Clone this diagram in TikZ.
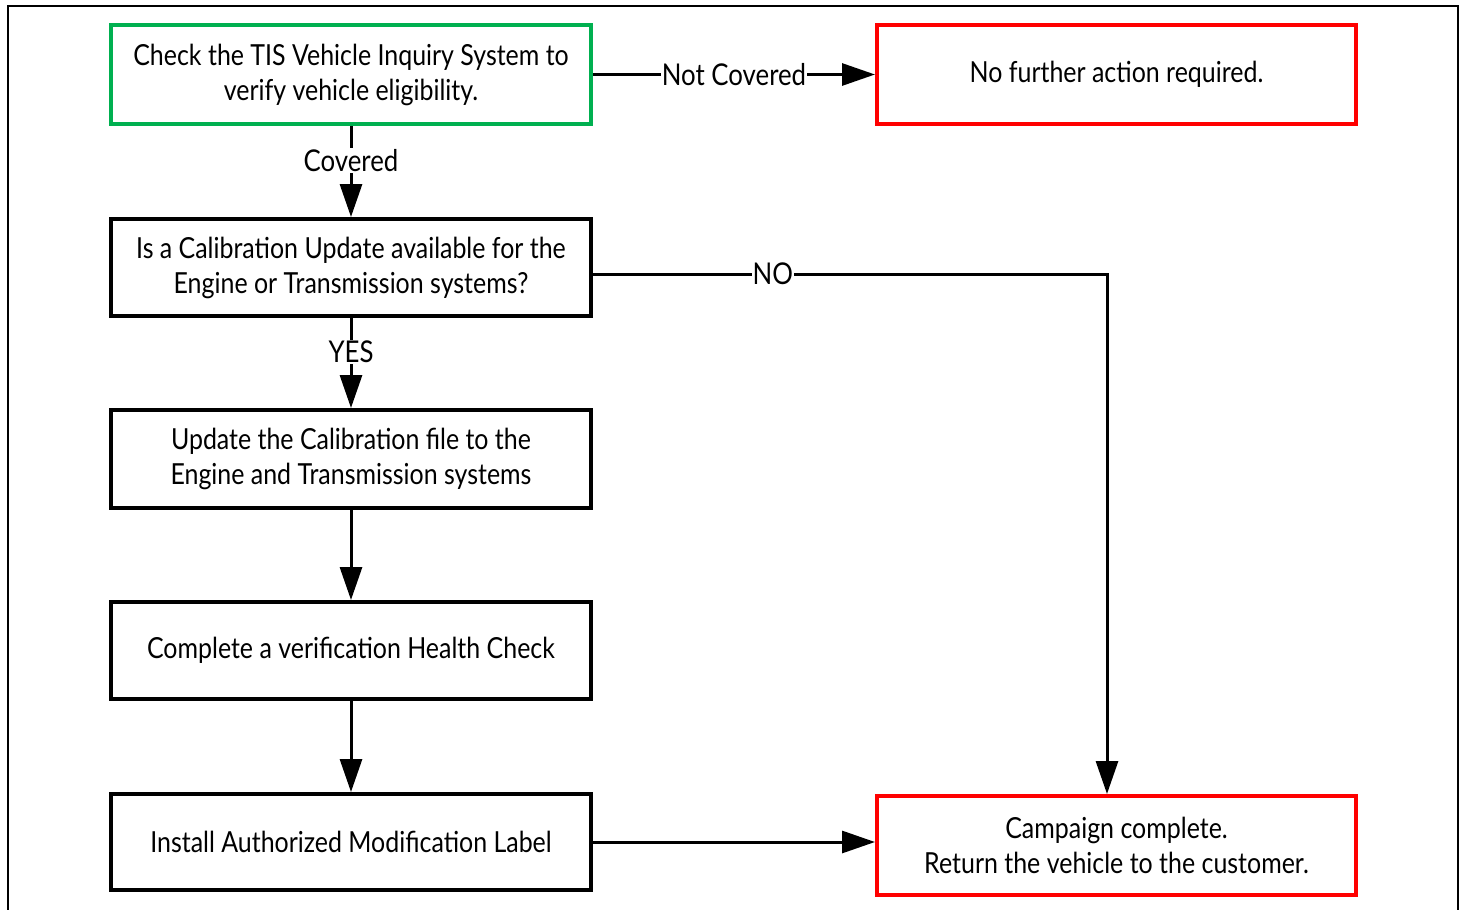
\documentclass[tikz,border=0pt]{standalone}
\usepackage{fontspec}
\setmainfont{Lato}[FakeStretch=0.86]
\usetikzlibrary{arrows.meta}
\definecolor{boxgreen}{RGB}{0,176,80}
\definecolor{boxred}{RGB}{255,0,0}
\tikzset{
  box/.style={draw=black, line width=4pt, rectangle, minimum width=480pt, align=center,
    font=\fontsize{29}{35}\selectfont, inner sep=0pt},
  greenbox/.style={box, draw=boxgreen},
  redbox/.style={box, draw=boxred, minimum width=479pt},
  conn/.style={line width=3pt, -{Triangle[length=33pt,width=22pt]}},
  lbl/.style={fill=white, inner sep=1pt, font=\fontsize{30}{32}\selectfont},
  frame/.style={line width=2.5pt}
}
\begin{document}
\begin{tikzpicture}[x=1pt,y=-1pt]
\useasboundingbox (0,0) rectangle (1465,910);
\draw[frame] (8,910) -- (8,6) -- (1458,6) -- (1458,910);
\node[greenbox, minimum height=99pt] (g) at (351,74.5) {Check the TIS Vehicle Inquiry System to\\verify vehicle eligibility.};
\node[redbox, minimum height=99pt] (r1) at (1116.5,74.5) {No further action required.};
\node[box, minimum height=97pt] (b2) at (351,267.5) {Is a Calibration Update available for the\\Engine or Transmission systems?};
\node[box, minimum height=98pt] (b3) at (351,459) {Update the Calibration file to the\\Engine and Transmission systems};
\node[box, minimum height=97pt] (b4) at (351,650.5) {Complete a verification Health Check};
\node[box, minimum height=96pt] (b5) at (351,842) {Install Authorized Modification Label};
\node[redbox, minimum height=99pt] (r2) at (1116.5,845.5) {Campaign complete.\\Return the vehicle to the customer.};
\coordinate (nc) at (1107,274);
\draw[conn] (g.south) -- node[lbl, pos=0.38] {Covered} (b2.north);
\draw[conn] (b2.south) -- node[lbl, pos=0.38] {YES} (b3.north);
\draw[conn] (b3.south) -- (b4.north);
\draw[conn] (b4.south) -- (b5.north);
\draw[conn] (g.east) -- node[lbl] {Not Covered} (r1.west);
\draw[conn] (b2.east |- nc) -- node[lbl, pos=0.35] {NO} (nc) -- (nc |- r2.north);
\draw[conn] (b5.east) -- (b5.east -| r2.west);
\end{tikzpicture}
\end{document}
